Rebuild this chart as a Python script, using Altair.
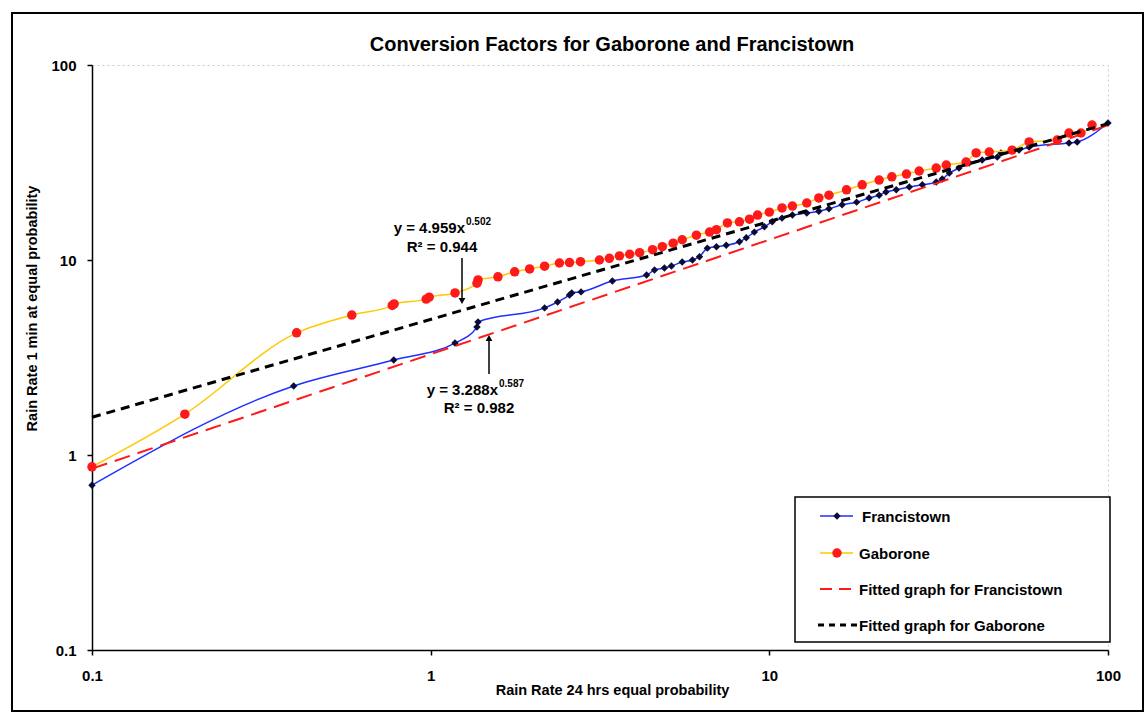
import altair as alt
import pandas as pd

# Rain rate at equal probability: 24 h integration time (x) vs 1 min (y)
fr_24h = [0.1, 0.394, 0.778, 1.18, 1.37, 1.38, 2.17, 2.37, 2.57, 2.61, 2.78, 3.44,
          4.34, 4.58, 4.9, 5.14, 5.53, 5.93, 6.22, 6.56, 6.98, 7.46, 8.16, 8.55,
          9.03, 9.67, 10.2, 10.9, 11.7, 12.9, 14.0, 15.0, 16.4, 18.1, 19.7, 21.1,
          22.1, 23.7, 25.9, 28.3, 31.1, 32.4, 34.0, 36.3, 38.9, 42.5, 47.1, 48.3,
          54.6, 58.5, 76.7, 81.1, 100]
fr_1min = [0.7, 2.26, 3.07, 3.75, 4.53, 4.81, 5.68, 6.09, 6.62, 6.78, 6.86, 7.8,
           8.37, 8.89, 9.1, 9.31, 9.77, 10.0, 10.4, 11.5, 11.7, 11.9, 12.4, 13.0,
           13.9, 14.8, 15.7, 16.4, 17.0, 17.4, 17.8, 18.3, 19.2, 19.8, 20.8, 21.5,
           22.3, 22.9, 23.7, 24.3, 25.1, 26.0, 27.9, 29.6, 31.4, 32.6, 33.7, 35.4,
           36.6, 37.9, 39.8, 40.3, 50.4]

gb_24h = [0.1, 0.188, 0.402, 0.585, 0.77, 0.78, 0.97, 0.99, 1.18, 1.37, 1.38, 1.58,
          1.77, 1.96, 2.17, 2.4, 2.57, 2.77, 3.15, 3.37, 3.61, 3.87, 4.14, 4.52,
          4.83, 5.2, 5.53, 6.09, 6.66, 6.98, 7.52, 8.16, 8.74, 9.23, 10.0, 10.9,
          11.7, 12.9, 14.0, 15.0, 16.9, 18.8, 21.1, 23.0, 25.4, 27.7, 31.1, 33.3,
          38.1, 40.8, 44.6, 52.1, 58.5, 70.8, 76.7, 83.2, 89.7]
gb_1min = [0.87, 1.62, 4.23, 5.22, 5.85, 5.95, 6.3, 6.45, 6.78, 7.6, 7.9, 8.2,
           8.7, 9.0, 9.3, 9.65, 9.7, 9.8, 10.0, 10.2, 10.5, 10.7, 10.9, 11.3,
           11.7, 12.2, 12.7, 13.4, 13.9, 14.3, 15.5, 15.7, 16.2, 17.0, 17.6, 18.5,
           18.9, 19.6, 20.8, 21.5, 22.9, 24.3, 25.7, 26.7, 27.6, 28.6, 29.6, 30.7,
           31.8, 35.4, 35.8, 36.6, 40.3, 41.2, 44.8, 44.8, 49.2]

# Power-law trendlines y = a * x^b
fit_names = ["Fitted graph for Francistown", "Fitted graph for Gaborone"]
fit_a = [3.288, 4.959]
fit_b = [0.587, 0.502]
fit_r2 = [0.982, 0.944]
fit_range = [0.1, 100]

tick_values = [0.1, 1, 10, 100]

TITLE = "Conversion Factors for Gaborone and Francistown"
FONT = "Liberation Sans"
BLUE = "#1f2fff"
NAVY = "#0b0b35"
RED = "#ff1a1a"
YELLOW = "#ffc800"

# plot area origin on the page
OX, OY = 92, 65
W, H = 1016, 585

fr = pd.DataFrame({"x": fr_24h, "y": fr_1min})
gb = pd.DataFrame({"x": gb_24h, "y": gb_1min})
fits = pd.DataFrame([
    {"name": n, "x": xv, "y": a * xv ** b}
    for n, a, b in zip(fit_names, fit_a, fit_b) for xv in fit_range
])

xs = alt.Scale(type="log", domain=[0.1, 100], nice=False)
ys = alt.Scale(type="log", domain=[0.1, 100], nice=False)

x_enc = alt.X("x:Q", scale=xs, axis=alt.Axis(
    values=tick_values, format=".1~f", title="Rain Rate 24 hrs equal probability", grid=False,
    labelPadding=13, titleX=520, titleY=40, titleBaseline="middle", titleAlign="center"))
y_enc = alt.Y("y:Q", scale=ys, axis=alt.Axis(
    values=tick_values, format=".1~f", title="Rain Rate 1 min at equal probability", grid=False,
    labelPadding=11, titleX=-60, titleY=243, titleBaseline="middle", titleAlign="center",
    titleAngle=270))

fr_line = alt.Chart(fr).mark_line(color=BLUE, strokeWidth=1.5, interpolate="monotone").encode(x=x_enc, y=y_enc)
gb_line = alt.Chart(gb).mark_line(color=YELLOW, strokeWidth=1.5, interpolate="monotone").encode(x=x_enc, y=y_enc)
fr_pts = alt.Chart(fr).mark_point(shape="diamond", filled=True, size=55, color=NAVY, opacity=1).encode(x=x_enc, y=y_enc)
gb_pts = alt.Chart(gb).mark_circle(size=90, color=RED, opacity=1).encode(x=x_enc, y=y_enc)

fit_fr = alt.Chart(fits[fits["name"] == fit_names[0]]).mark_line(
    color=RED, strokeWidth=2, strokeDash=[16, 8]).encode(x=x_enc, y=y_enc)
fit_gb = alt.Chart(fits[fits["name"] == fit_names[1]]).mark_line(
    color="black", strokeWidth=3, strokeDash=[9, 6]).encode(x=x_enc, y=y_enc)

one = pd.DataFrame({"k": [0]})


def px(x):
    return alt.value(x - OX)


def py(y):
    return alt.value(y - OY)


def text(t, x, y, size=15, align="left", weight="bold", font=FONT):
    return alt.Chart(one).mark_text(
        text=t, align=align, baseline="middle", fontSize=size, fontWeight=weight,
        font=font, color="black").encode(x=px(x), y=py(y))


def rule(x1, x2, y1, y2, color="black", width=1.5, dash=None):
    kw = dict(color=color, strokeWidth=width)
    if dash:
        kw["strokeDash"] = dash
    return alt.Chart(one).mark_rule(**kw).encode(x=px(x1), x2=px(x2), y=py(y1), y2=py(y2))


def marker(shape, x, y, size, color):
    return alt.Chart(one).mark_point(shape=shape, filled=True, size=size, color=color,
                                     opacity=1).encode(x=px(x), y=py(y))


# chart title
title_layer = text(TITLE, 612, 45, size=20, align="center")

# trendline equations with arrows
eq_layers = [
    text(f"y = {fit_a[1]}x", 465, 228, align="right"),
    text(f"{fit_b[1]}", 466, 222, size=10),
    text(f"R\u00b2 = {fit_r2[1]}", 442, 247, align="center"),
    rule(462, 462, 258, 299, width=1.5),
    marker("triangle-down", 462, 301, 45, "black"),
    text(f"y = {fit_a[0]}x", 498, 390, align="right"),
    text(f"{fit_b[0]}", 499, 384, size=10),
    text(f"R\u00b2 = {fit_r2[0]}", 479, 408, align="center"),
    rule(489, 489, 340, 374, width=1.5),
    marker("triangle-up", 489, 338, 45, "black"),
]

# legend box
legend_layers = [
    alt.Chart(one).mark_rect(fill="white", stroke="black", strokeWidth=1.5).encode(
        x=px(795), x2=px(1110), y=py(497), y2=py(642)),
    rule(820, 853, 516, 516, color=BLUE, width=1.5),
    marker("diamond", 837, 516, 55, NAVY),
    text("Francistown", 862, 517),
    rule(820, 853, 553, 553, color=YELLOW, width=1.5),
    marker("circle", 837, 553, 90, RED),
    text("Gaborone", 859, 554),
    rule(820, 856, 589, 589, color=RED, width=2, dash=[12, 7]),
    text(fit_names[0], 859, 590),
    rule(818, 857, 625, 625, color="black", width=3, dash=[6, 5]),
    text(fit_names[1], 859, 626),
]

# outer chart border
frame = alt.Chart(one).mark_rect(fillOpacity=0, stroke="black", strokeWidth=2).encode(
    x=px(12), x2=px(1143), y=py(13), y2=py(711))

chart = alt.layer(
    frame, fr_line, fr_pts, gb_line, gb_pts, fit_fr, fit_gb, title_layer,
    *eq_layers, *legend_layers
).properties(
    width=W, height=H,
    padding={"left": OX, "top": OY, "right": 1146 - OX - W, "bottom": 714 - OY - H},
    autosize=alt.AutoSizeParams(type="none"),
).configure(
    background="white"
).configure_view(
    stroke="#c8c8dc", strokeWidth=1, strokeDash=[2, 3]
).configure_axis(
    grid=False, domainColor="black", domainWidth=1.5, tickColor="black", tickWidth=1.5,
    tickSize=5, labelFont=FONT, labelFontSize=15, labelFontWeight="bold", labelColor="black",
    titleFont=FONT, titleFontSize=14.5, titleFontWeight="bold",
    titleColor="black", labelFlush=False, labelOverlap=False
)

chart.save("out.html", embed_options={"renderer": "svg", "actions": False})
